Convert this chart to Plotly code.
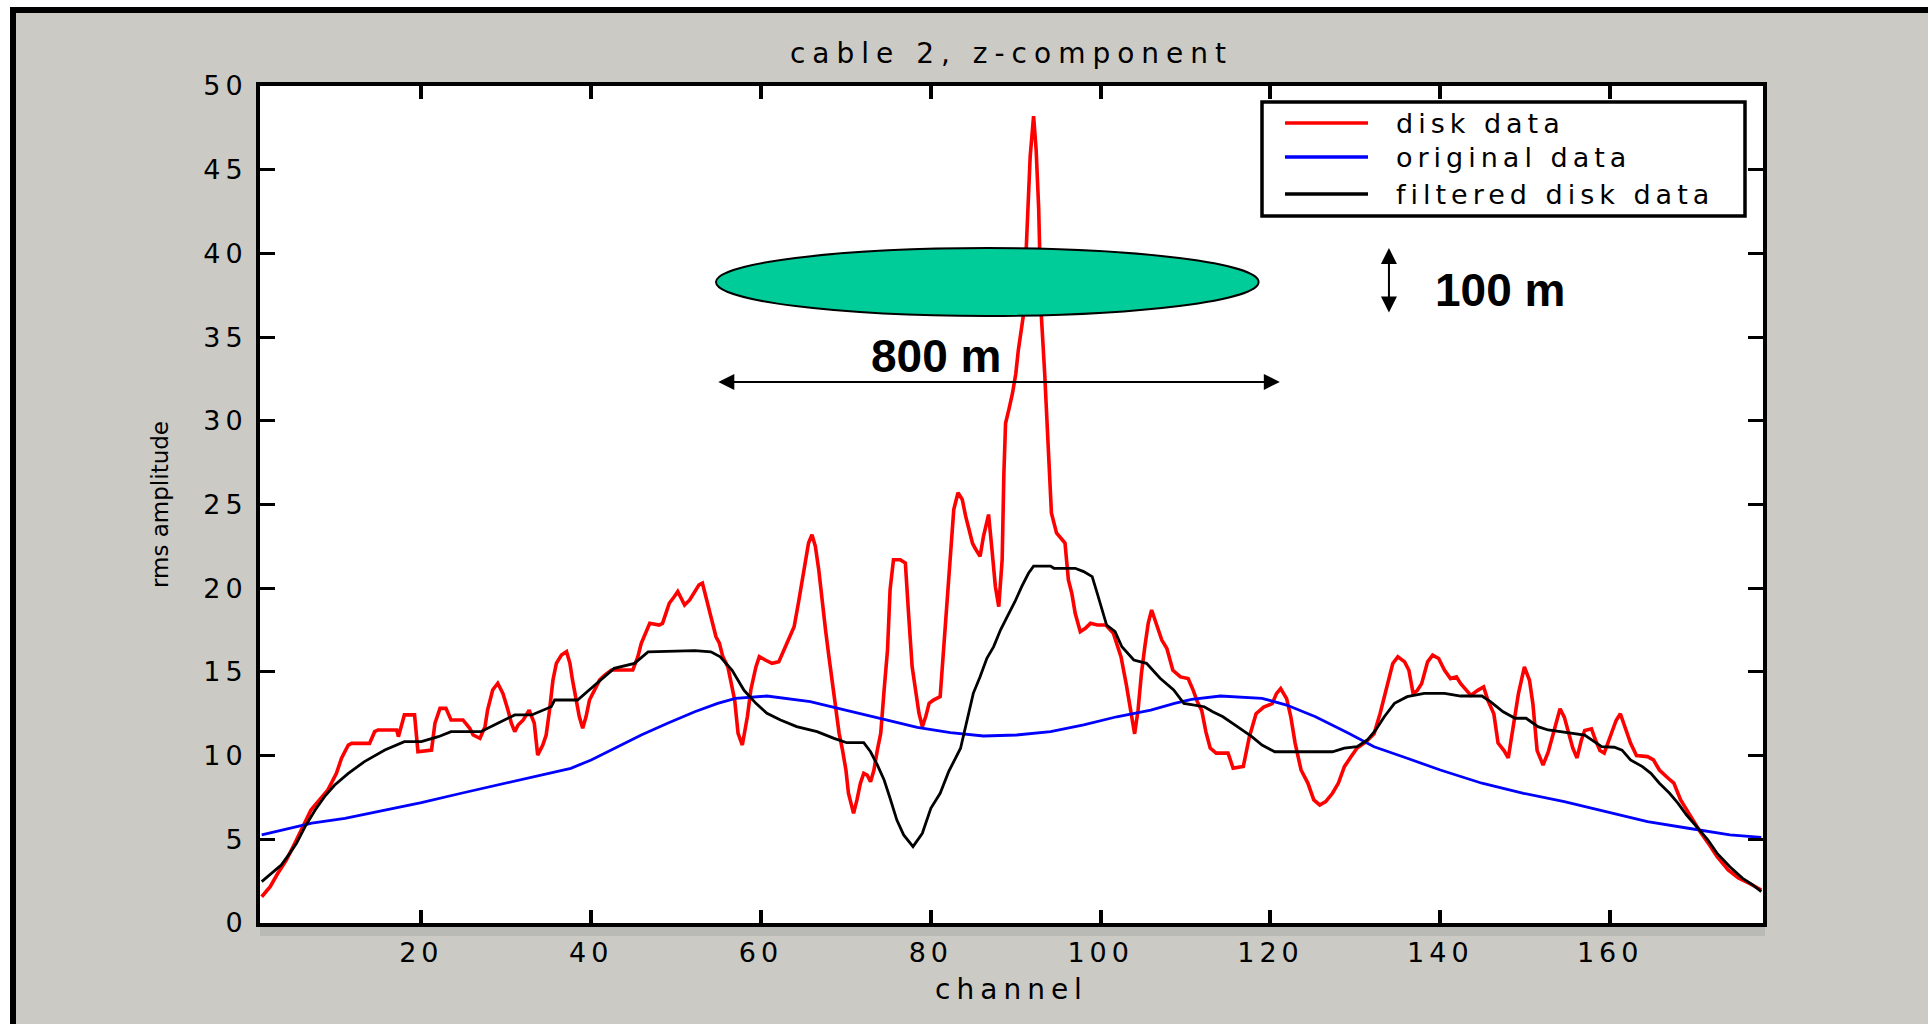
import plotly.graph_objects as go

# ---- data: rms amplitude per channel, cable 2, z-component ----
disk_channel = [
    1.2, 2.2, 3.1, 4.1, 5.1, 6.1, 7.0, 8.0, 9.0, 10.0, 10.6, 11.4, 11.8, 13.9, 14.5, 14.9,
    17.1, 17.3, 18.0, 19.2, 19.6, 21.2, 21.6, 22.2, 22.9, 23.5, 24.9, 25.7, 26.1, 26.9,
    27.5, 27.8, 28.4, 29.0, 29.6, 30.2, 30.6, 31.0, 31.4, 32.0, 32.7, 33.3, 33.7, 34.3,
    34.7, 35.1, 35.5, 35.9, 36.5, 37.1, 37.5, 37.8, 38.2, 38.6, 39.0, 39.4, 39.8, 40.4,
    41.0, 41.6, 42.4, 44.9, 45.1, 45.5, 45.9, 46.5, 46.9, 48.0, 48.4, 48.8, 49.2, 49.8,
    50.2, 50.6, 51.0, 51.6, 52.2, 52.7, 53.1, 53.5, 53.9, 54.3, 54.7, 55.1, 55.5, 56.1,
    56.5, 56.9, 57.3, 57.8, 58.4, 58.8, 59.4, 59.8, 60.5, 61.3, 62.1, 62.7, 63.3, 63.9,
    64.4, 64.8, 65.2, 65.6, 66.0, 66.4, 66.8, 67.2, 67.6, 68.0, 68.4, 68.8, 69.2, 69.6,
    70.0, 70.3, 70.9, 71.3, 71.7, 72.1, 72.5, 72.9, 73.3, 73.7, 74.1, 74.5, 74.9, 75.2,
    75.6, 76.4, 77.0, 77.4, 77.8, 78.2, 78.6, 79.0, 79.4, 79.8, 80.3, 81.1, 81.5, 81.9,
    82.3, 82.7, 83.2, 83.7, 84.1, 84.5, 84.9, 85.2, 85.8, 86.2, 86.8, 87.2, 87.6, 88.0,
    88.4, 88.6, 88.8, 89.2, 89.6, 90.0, 90.3, 90.9, 91.3, 91.7, 92.1, 92.4, 92.7, 93.0,
    93.4, 93.9, 94.2, 94.8, 95.8, 96.2, 96.6, 97.0, 97.6, 98.2, 98.8, 99.6, 100.6, 101.5,
    102.4, 103.0, 103.6, 104.0, 104.4, 104.8, 105.2, 105.6, 106.0, 106.6, 107.2, 107.8,
    108.5, 109.4, 110.3, 110.9, 111.4, 111.9, 112.4, 112.9, 113.6, 115.0, 115.6, 116.8,
    117.5, 118.3, 119.2, 120.2, 120.7, 121.2, 121.9, 122.4, 122.9, 123.6, 124.4, 125.1,
    125.8, 126.5, 127.3, 128.0, 128.7, 129.5, 130.2, 131.2, 132.2, 132.9, 133.4, 133.8,
    134.4, 135.0, 135.8, 136.3, 136.8, 137.3, 137.8, 138.5, 139.1, 139.8, 140.5, 141.2,
    141.9, 142.4, 143.1, 143.6, 144.4, 145.1, 145.6, 146.3, 146.8, 147.5, 148.0, 148.5,
    149.2, 149.9, 150.5, 150.9, 151.4, 152.1, 152.7, 153.4, 154.1, 154.6, 155.1, 155.6,
    156.1, 156.6, 157.0, 157.8, 158.3, 158.8, 159.3, 159.7, 160.2, 160.7, 161.2, 161.7,
    162.4, 163.1, 164.4, 165.1, 165.8, 166.8, 167.5, 168.3, 169.0, 169.7, 170.7, 171.7,
    172.6, 173.9, 175.1, 176.3, 177.8,
]
disk_amp = [
    1.57, 2.17, 2.97, 3.76, 4.76, 5.75, 6.75, 7.35, 7.95, 8.94, 9.84, 10.63, 10.73, 10.73, 11.43, 11.53,
    11.53, 11.13, 12.43, 12.43, 10.23, 10.33, 11.93, 12.82, 12.82, 12.13, 12.13, 11.63, 11.23, 11.03,
    11.73, 12.72, 13.92, 14.32, 13.72, 12.72, 11.93, 11.43, 11.83, 12.13, 12.72, 11.93, 10.03, 10.63,
    11.23, 12.72, 14.52, 15.51, 16.01, 16.21, 15.51, 14.52, 13.52, 12.33, 11.63, 12.33, 13.32, 13.92,
    14.52, 14.81, 15.11, 15.11, 15.41, 15.91, 16.71, 17.5, 17.9, 17.8, 17.9, 18.5, 19.1, 19.5,
    19.8, 19.4, 19.0, 19.3, 19.8, 20.2, 20.3, 19.5, 18.5, 17.7, 17.1, 16.71, 15.91, 15.3,
    14.32, 13.32, 11.33, 10.63, 12.33, 13.92, 15.3, 15.91, 15.71, 15.51, 15.61, 16.31, 16.9, 17.7,
    19.1, 20.3, 21.7, 22.7, 23.2, 22.5, 21.1, 19.1, 17.5, 15.91, 14.32, 12.72, 11.33, 10.33,
    9.14, 7.75, 6.55, 7.35, 8.34, 8.94, 8.84, 8.44, 9.14, 10.33, 11.33, 13.92, 16.31, 19.9,
    21.7, 21.7, 21.5, 18.3, 15.3, 13.92, 12.53, 11.73, 12.33, 13.12, 13.32, 13.52, 16.31, 19.3,
    22.3, 24.7, 25.7, 25.3, 24.3, 23.5, 22.7, 22.4, 21.9, 23.1, 24.4, 22.3, 20.1, 18.9,
    21.7, 26.8, 29.85, 30.7, 31.6, 32.8, 34.2, 36.3, 41.4, 45.8, 48.2, 46.2, 42.7, 36.4,
    32.9, 27.5, 24.5, 23.3, 22.7, 20.5, 19.7, 18.5, 17.4, 17.6, 17.9, 17.8, 17.8, 17.3,
    15.9, 14.3, 12.3, 11.3, 12.7, 14.9, 16.5, 17.9, 18.7, 17.8, 16.9, 16.4,
    15.1, 14.7, 14.6, 13.9, 13.2, 12.7, 11.4, 10.45, 10.15, 10.15, 9.25, 9.35,
    11.1, 12.5, 12.9, 13.1, 13.7, 14.0, 13.4, 12.3, 10.75, 9.14, 8.36, 7.35,
    7.05, 7.25, 7.75, 8.36, 9.34, 9.94, 10.45, 10.8, 11.3, 12.5, 13.5, 14.5,
    15.5, 15.9, 15.6, 15.1, 13.7, 13.9, 14.3, 15.6, 16.0, 15.8, 15.1, 14.6,
    14.7, 14.3, 13.9, 13.6, 13.9, 14.1, 13.3, 12.5, 10.75, 10.3, 9.86, 11.5,
    13.7, 15.3, 14.5, 13.1, 10.3, 9.44, 10.2, 11.5, 12.8, 12.3, 11.3, 10.45,
    9.86, 10.9, 11.5, 11.6, 10.9, 10.3, 10.15, 10.75, 11.5, 12.1, 12.5, 11.7,
    10.75, 10.0, 9.94, 9.74, 9.14, 8.66, 8.36, 7.35, 6.75, 6.15, 5.37, 4.66,
    3.96, 3.17, 2.69, 2.39, 1.97,
]

orig_channel = [
    1.2, 3.9, 7.1, 11.0, 15.7, 20.0, 24.7, 29.8, 34.1, 37.6, 40.0, 43.1, 45.9, 49.0,
    52.2, 54.9, 57.0, 60.7, 63.1, 65.8, 68.6, 71.7, 74.5, 78.4, 82.3, 86.2, 90.1, 94.1,
    98.0, 101.9, 105.9, 108.7, 110.7, 114.1, 119.0, 121.9, 125.3, 129.2, 132.2, 136.1,
    140.0, 144.9, 149.8, 154.6, 159.5, 164.4, 169.2, 174.1, 177.8,
]
orig_amp = [
    5.26, 5.56, 5.96, 6.25, 6.75, 7.19, 7.75, 8.35, 8.84, 9.24, 9.74, 10.53, 11.23, 11.93,
    12.62, 13.12, 13.42, 13.56, 13.42, 13.22, 12.88, 12.53, 12.17, 11.69, 11.37, 11.17, 11.23, 11.43,
    11.83, 12.32, 12.72, 13.12, 13.36, 13.56, 13.42, 13.02, 12.32, 11.33, 10.53, 9.84,
    9.14, 8.35, 7.75, 7.25, 6.65, 6.05, 5.66, 5.26, 5.12,
]

filt_channel = [
    1.2, 2.4, 3.5, 4.5, 5.3, 6.3, 7.5, 8.6, 9.8, 11.4, 13.3, 15.7, 18.0, 20.0, 22.0, 23.5,
    27.0, 29.0, 31.0, 33.0, 35.3, 35.7, 38.4, 40.0, 41.6, 42.7, 45.1, 46.7, 52.2, 54.1,
    55.2, 56.6, 58.0, 59.4, 60.7, 62.3, 64.2, 66.6, 68.6, 70.1, 72.1, 72.9, 73.7, 74.5,
    75.2, 76.0, 76.8, 77.9, 79.0, 80.0, 81.1, 82.1, 83.5, 84.3, 85.0, 85.8, 86.6, 87.4,
    88.2, 89.0, 89.9, 90.7, 91.5, 92.1, 94.1, 94.5, 97.0, 98.0, 99.0, 99.6, 100.2, 100.7,
    101.7, 102.5, 103.9, 105.4, 107.0, 108.6, 109.8, 112.2, 113.2, 114.4, 116.1, 117.8,
    119.0, 120.5, 122.9, 127.3, 128.7, 130.2, 131.4, 132.4, 133.4, 134.6, 136.1, 138.1,
    140.5, 142.4, 144.9, 145.9, 147.4, 148.8, 150.1, 151.5, 152.7, 155.1, 157.0, 159.0,
    160.5, 161.4, 162.4, 163.8, 164.8, 165.8, 167.0, 168.0, 169.0, 170.2, 171.5, 172.6,
    174.1, 175.6, 176.8, 177.8,
]
filt_amp = [
    2.47, 2.97, 3.46, 4.16, 4.76, 5.75, 6.75, 7.55, 8.24, 8.94, 9.64, 10.33, 10.83, 10.83, 11.13, 11.43,
    11.43, 11.93, 12.43, 12.43, 12.92, 13.32, 13.32, 14.02, 14.71, 15.21, 15.51, 16.2, 16.27, 16.2,
    15.9, 15.1, 13.9, 13.12, 12.53, 12.13, 11.73, 11.43, 11.03, 10.77, 10.77, 10.23, 9.44, 8.54,
    7.45, 6.15, 5.26, 4.56, 5.36, 6.85, 7.75, 9.04, 10.44, 12.13, 13.72, 14.71, 15.81, 16.51,
    17.5, 18.3, 19.19, 20.09, 20.89, 21.32, 21.32, 21.19, 21.19, 20.99, 20.69, 19.69, 18.7, 17.8,
    17.4, 16.5, 15.71, 15.51, 14.62, 13.92, 13.12, 12.92, 12.62, 12.32, 11.73, 11.13,
    10.63, 10.23, 10.23, 10.23, 10.44, 10.53, 10.93, 11.53, 12.32, 13.12, 13.52, 13.72,
    13.72, 13.56, 13.56, 13.22, 12.62, 12.23, 12.23, 11.73, 11.53, 11.37, 11.23, 10.53,
    10.5, 10.33, 9.74, 9.34, 8.94, 8.35, 7.75, 7.15, 6.45, 5.75, 4.96, 4.16,
    3.36, 2.67, 2.27, 1.87,
]

x_tick_vals = [20, 40, 60, 80, 100, 120, 140, 160]
y_tick_vals = [0, 5, 10, 15, 20, 25, 30, 35, 40, 45, 50]

series_names = ["disk data", "original data", "filtered disk data"]
series_colors = ["#ff0000", "#0000ff", "#000000"]

# ---- styling ----
FONT = "DejaVu Sans, Verdana, sans-serif"
BOLD_FONT = "Liberation Sans, Arial, sans-serif"
TEXTURE = "#cbcac4"
W, H = 1928, 1024
PL, PR, PT, PB = 260, 1763, 86, 923  # plot area in pixels


def spaced(text, px):
    return f'<span style="letter-spacing:{px}px">{text}</span>'


def fx(px):
    return (px - PL) / (PR - PL)


def fy(py):
    return (PB - py) / (PB - PT)


fig = go.Figure()
for xs, ys, name, color, width in [
    (disk_channel, disk_amp, series_names[0], series_colors[0], 3.6),
    (orig_channel, orig_amp, series_names[1], series_colors[1], 2.8),
    (filt_channel, filt_amp, series_names[2], series_colors[2], 2.8),
]:
    fig.add_trace(go.Scatter(
        x=xs, y=ys, mode="lines", name=name, showlegend=False,
        line=dict(color=color, width=width), hoverinfo="skip",
    ))

shapes = [
    # outer frame: white edge, black band, textured page
    dict(type="rect", xref="paper", yref="paper", x0=fx(0), x1=fx(W), y0=fy(0), y1=fy(7),
         fillcolor="#ffffff", line_width=0, layer="below"),
    dict(type="rect", xref="paper", yref="paper", x0=fx(0), x1=fx(10), y0=fy(0), y1=fy(H),
         fillcolor="#ffffff", line_width=0, layer="below"),
    dict(type="rect", xref="paper", yref="paper", x0=fx(10), x1=fx(W), y0=fy(7), y1=fy(13),
         fillcolor="#000000", line_width=0, layer="below"),
    dict(type="rect", xref="paper", yref="paper", x0=fx(10), x1=fx(16), y0=fy(7), y1=fy(H),
         fillcolor="#000000", line_width=0, layer="below"),
    dict(type="rect", xref="paper", yref="paper", x0=fx(PL), x1=fx(PR + 2), y0=fy(926), y1=fy(936),
         fillcolor="#b9b9b5", line_width=0, layer="below"),
    # lens-shaped disk body
    dict(type="circle", xref="x", yref="y", x0=54.7, x1=118.6, y0=36.26, y1=40.32,
         fillcolor="#00cc99", line=dict(color="#000000", width=2), layer="above"),
    # legend box
    dict(type="rect", xref="paper", yref="paper", x0=fx(1262), x1=fx(1745), y0=fy(216), y1=fy(102),
         fillcolor="#ffffff", line=dict(color="#000000", width=3.5), layer="above"),
]

legend_rows = [123, 157, 194]
annotations = []
for name, color, row in zip(series_names, series_colors, legend_rows):
    shapes.append(dict(type="line", xref="paper", yref="paper", x0=fx(1285), x1=fx(1368),
                       y0=fy(row), y1=fy(row), line=dict(color=color, width=3.5), layer="above"))
    annotations.append(dict(x=fx(1394), y=fy(row), xref="paper", yref="paper",
                            text=spaced(name, 5), showarrow=False, xanchor="left", yanchor="middle",
                            font=dict(family=FONT, size=27, color="#000000")))

annotations += [
    # 800 m span arrow
    dict(x=121.1, y=32.32, ax=54.8, ay=32.32, xref="x", yref="y", axref="x", ayref="y",
         text="", showarrow=True, arrowside="end+start", arrowhead=2, startarrowhead=2,
         arrowsize=1.6, startarrowsize=1.6, arrowwidth=2, arrowcolor="#000000",
         standoff=0, startstandoff=0),
    # 100 m thickness arrow
    dict(x=133.95, y=40.32, ax=133.95, ay=36.38, xref="x", yref="y", axref="x", ayref="y",
         text="", showarrow=True, arrowside="end+start", arrowhead=2, startarrowhead=2,
         arrowsize=1.6, startarrowsize=1.6, arrowwidth=2, arrowcolor="#000000",
         standoff=0, startstandoff=0),
    dict(x=80.6, y=33.85, xref="x", yref="y", text="<b>800 m</b>", showarrow=False,
         font=dict(family=BOLD_FONT, size=46, color="#000000"), xanchor="center", yanchor="middle"),
    dict(x=147.0, y=37.84, xref="x", yref="y", text="<b>100 m</b>", showarrow=False,
         font=dict(family=BOLD_FONT, size=46, color="#000000"), xanchor="center", yanchor="middle"),
]

axis_common = dict(
    showline=True, linecolor="#000000", linewidth=4, mirror="ticks",
    ticks="inside", tickcolor="#000000", showgrid=False, zeroline=False,
    tickfont=dict(family=FONT, size=27, color="#000000"),
)

fig.update_layout(
    width=W, height=H,
    margin=dict(l=PL, r=W - PR, t=PT, b=H - PB, pad=0),
    paper_bgcolor=TEXTURE, plot_bgcolor="#ffffff",
    title=dict(text=spaced("cable 2, z-component", 7), x=0.5, xref="paper",
               y=1 - 53 / H, yref="container", xanchor="center", yanchor="middle",
               font=dict(family=FONT, size=28, color="#000000")),
    xaxis=dict(range=[1, 178], tickvals=x_tick_vals,
               ticktext=[spaced(str(v), 5) for v in x_tick_vals],
               ticklen=13, tickwidth=4, ticklabelstandoff=3,
               title=dict(text=spaced("channel", 6), standoff=13,
                          font=dict(family=FONT, size=28, color="#000000")),
               **axis_common),
    yaxis=dict(range=[0, 50], tickvals=y_tick_vals,
               ticktext=[spaced(str(v), 5) for v in y_tick_vals],
               ticklen=15, tickwidth=2.5, ticklabelstandoff=3,
               title=dict(text="rms amplitude", standoff=29,
                          font=dict(family=FONT, size=23, color="#000000")),
               **axis_common),
    showlegend=False,
    shapes=shapes,
    annotations=annotations,
)

fig.write_html("out.html")
